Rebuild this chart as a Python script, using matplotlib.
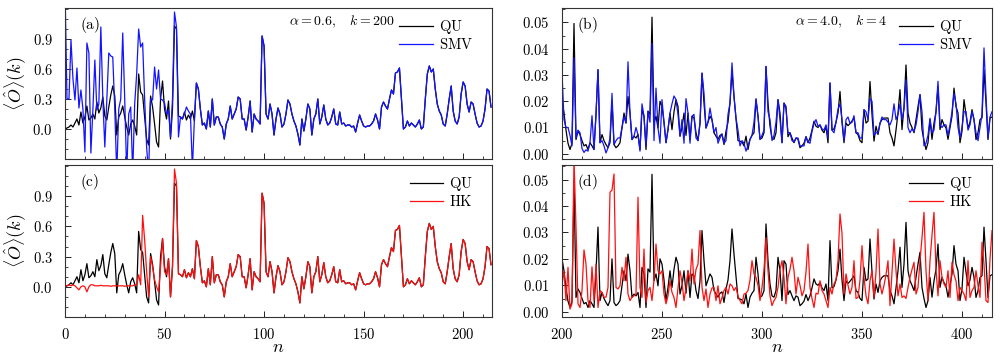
import matplotlib
matplotlib.use("Agg")
import matplotlib.pyplot as plt
import numpy as np
from matplotlib.ticker import MultipleLocator, FormatStrFormatter

# ===== DATA =====
# left panels: alpha = 0.6, k = 200, n = 0 .. 214
qu_left = [
    0.00, 0.01, 0.02, 0.04, 0.02, 0.06, 0.10, 0.04, 0.17, 0.06,
    0.12, 0.23, 0.09, 0.11, 0.15, 0.10, 0.27, 0.16, 0.21, 0.32,
    0.13, 0.09, 0.22, 0.34, 0.43, 0.33, -0.06, 0.12, 0.16, 0.23,
    0.12, 0.02, -0.06, 0.05, 0.09, 0.03, -0.06, 0.55, 0.37, 0.34,
    0.12, -0.10, -0.16, 0.33, 0.22, 0.05, -0.13, -0.18, 0.30, 0.48,
    0.20, 0.10, 0.28, -0.10, 0.20, 1.03, 1.00, 0.13, 0.12, 0.10,
    0.17, 0.09, 0.14, 0.10, 0.18, 0.08, 0.46, 0.40, 0.20, 0.04,
    0.06, 0.00, 0.18, 0.02, 0.30, 0.04, 0.12, 0.12, 0.05, 0.02,
    -0.10, 0.05, 0.10, 0.23, 0.10, 0.15, 0.20, 0.32, 0.30, 0.10,
    0.10, -0.01, 0.12, 0.28, -0.03, 0.15, 0.10, 0.08, 0.05, 0.93,
    0.83, 0.15, 0.10, 0.25, 0.15, -0.06, 0.10, 0.21, 0.15, 0.02,
    0.05, 0.15, 0.29, 0.25, 0.15, 0.08, 0.03, -0.05, -0.16, 0.10,
    -0.02, 0.10, 0.25, 0.20, -0.06, 0.10, 0.15, 0.30, 0.05, 0.12,
    0.24, 0.10, 0.04, 0.06, 0.12, 0.20, 0.05, 0.04, 0.17, 0.05,
    0.06, 0.03, 0.04, 0.04, 0.02, 0.03, -0.03, 0.06, 0.14, 0.08,
    0.03, 0.02, 0.03, 0.03, 0.05, 0.08, 0.15, 0.09, 0.00, 0.22,
    0.27, 0.23, 0.20, 0.30, 0.39, 0.35, 0.56, 0.57, 0.61, 0.30,
    0.00, 0.02, 0.08, 0.03, 0.06, 0.04, 0.02, 0.05, 0.09, 0.00,
    0.02, 0.30, 0.55, 0.63, 0.57, 0.60, 0.40, 0.25, 0.18, 0.14,
    0.05, 0.03, 0.15, 0.30, 0.43, 0.18, 0.08, 0.05, 0.12, 0.35,
    0.47, 0.43, 0.25, 0.17, 0.27, 0.25, 0.15, 0.06, 0.02, 0.03,
    0.08, 0.20, 0.40, 0.38, 0.22,
]
# SMV departs from QU only at the start; afterwards the two lines coincide
smv_left_head = [
    1.40, 0.30, 0.30, 0.89, 0.50, 0.29, 0.61, 0.21, 0.39, 0.20,
    -0.23, 0.86, 0.76, -0.24, 0.19, 0.69, 0.19, 0.25, 1.02, 0.30,
    -0.18, 0.30, 0.76, 0.73, 0.72, 0.20, -0.45, 0.20, 0.30, 0.96,
    0.30, -0.45, 0.15, 0.22, -0.45, 0.25, 0.55, 1.00, 0.82, 0.86,
    0.30, -0.18, -0.45, 0.30, 0.29, 0.62, 0.40, 0.59, 0.30, 0.29,
    0.26, 0.15, 0.19, -0.08, 0.30, 1.17, 1.02, -0.08, 0.12, 0.10,
    0.15, 0.22, 0.18, 0.15, -0.40, 0.10,
]
hk_left_head = [
    0.00, 0.01, 0.02, 0.01, 0.02, 0.01, -0.01, -0.03, 0.00, 0.01,
    0.00, -0.05, 0.00, 0.02, 0.02, 0.01, 0.01, 0.01, 0.015, 0.01,
    0.01, 0.01, 0.01, 0.005, 0.01, 0.01, 0.01, 0.01, 0.01, 0.01,
    0.005, 0.01, 0.01, 0.01, 0.01, 0.02, 0.02, 0.12, 0.02, 0.71,
    0.47, 0.15, -0.10, 0.30, 0.20, 0.07, 0.00, -0.05, 0.20, 0.48,
    0.15, 0.12, 0.28, -0.10, 0.20, 1.17, 1.03, 0.13,
]

# right panels: alpha = 4.0, k = 4, n = 200 .. 415, values in units of 1e-2
qu_right = [
    2.0, 1.55, 0.9, 0.4, 0.16, 0.4, 4.96, 0.54, 0.86, 0.73,
    0.5, 0.3, 0.35, 0.16, 0.42, 0.3, 0.16, 1.5, 3.2, 0.42,
    0.73, 0.5, 0.35, 0.23, 0.42, 2.0, 0.35, 0.23, 0.3, 0.42,
    1.0, 1.55, 1.17, 2.18, 1.55, 0.54, 0.67, 0.6, 0.73, 0.16,
    1.68, 1.43, 0.16, 1.62, 1.5, 5.2, 1.17, 1.43, 0.98, 2.0,
    1.8, 1.2, 0.42, 0.92, 1.55, 0.92, 1.6, 2.06, 1.8, 0.67,
    1.0, 1.55, 0.7, 1.55, 0.54, 1.43, 1.36, 0.8, 0.5, 1.17,
    3.07, 1.93, 0.98, 1.2, 1.43, 1.3, 0.8, 0.67, 0.55, 0.7,
    0.75, 0.35, 0.86, 1.2, 1.93, 3.13, 2.18, 1.36, 0.5, 0.48,
    0.45, 0.3, 0.67, 0.16, 0.55, 0.7, 0.8, 2.06, 1.43, 0.55,
    0.6, 0.8, 3.32, 1.93, 1.05, 0.6, 0.55, 0.8, 2.06, 1.55,
    0.42, 1.93, 1.8, 0.65, 0.8, 0.6, 0.42, 0.6, 0.55, 0.23,
    0.3, 0.4, 0.65, 0.42, 0.6, 0.9, 1.24, 1.05, 1.0, 1.1,
    0.9, 0.8, 1.05, 0.42, 2.69, 0.9, 0.95, 1.2, 1.55, 2.37,
    1.2, 0.42, 1.17, 1.07, 1.15, 1.25, 1.36, 0.8, 0.73, 0.5,
    0.42, 1.68, 1.17, 1.24, 2.75, 1.5, 0.48, 1.05, 0.73, 1.17,
    1.3, 1.36, 1.36, 1.36, 0.8, 0.6, 0.3, 0.9, 1.55, 2.44,
    0.92, 1.8, 3.38, 1.55, 1.17, 1.0, 0.8, 1.3, 1.8, 2.25,
    0.92, 0.5, 0.16, 0.42, 1.3, 0.55, 1.17, 1.6, 2.56, 0.92,
    1.3, 1.1, 0.98, 0.55, 1.0, 1.43, 2.5, 1.8, 1.55, 0.42,
    0.86, 2.06, 1.5, 0.98, 1.2, 1.68, 1.3, 0.54, 0.8, 1.3,
    1.36, 3.2, 1.93, 0.54, 1.36, 1.4,
]
smv_right = [
    3.08, 1.3, 1.0, 1.0, 0.7, 0.3, 3.65, 0.6, 0.9, 0.8,
    0.2, 0.05, 0.15, 0.1, 0.42, 1.45, 0.16, 1.5, 3.2, 0.42,
    0.5, 0.3, 0.03, 0.23, 0.6, 2.3, 0.35, 0.5, 0.6, 0.6,
    1.0, 1.4, 1.17, 3.5, 1.55, 0.54, 0.67, 1.0, 0.73, 0.1,
    1.9, 1.43, 0.3, 1.62, 1.2, 4.2, 0.5, 2.5, 0.98, 0.4,
    2.06, 1.2, 0.42, 0.92, 1.55, 1.9, 2.2, 2.06, 1.5, 0.67,
    1.3, 0.4, 2.1, 1.55, 0.4, 1.43, 1.5, 0.6, 0.5, 1.17,
    3.07, 2.3, 0.98, 1.2, 1.74, 1.3, 0.8, 1.0, 0.4, 0.6,
    0.75, 0.4, 0.5, 1.5, 1.93, 3.46, 2.18, 1.36, 0.9, 0.3,
    0.5, 0.4, 0.1, 0.3, 0.55, 0.7, 1.2, 2.1, 1.43, 0.55,
    0.7, 0.9, 3.33, 1.6, 1.3, 0.5, 0.7, 1.2, 2.06, 1.3,
    0.42, 1.93, 1.7, 0.8, 0.8, 0.5, 0.45, 0.6, 0.6, 0.3,
    0.3, 0.3, 0.65, 0.45, 0.4, 0.85, 1.15, 1.3, 1.05, 1.1,
    0.95, 0.9, 1.1, 0.6, 2.7, 0.9, 0.8, 1.2, 1.7, 1.9,
    1.3, 0.5, 1.3, 1.4, 1.15, 1.2, 1.45, 0.8, 0.8, 0.6,
    0.6, 1.68, 1.6, 1.3, 2.1, 2.0, 0.7, 0.8, 0.8, 1.15,
    1.4, 1.3, 1.3, 1.2, 1.1, 1.3, 1.9, 1.3, 1.5, 1.9,
    1.3, 1.7, 2.82, 1.0, 0.8, 0.95, 0.85, 1.1, 1.6, 2.25,
    1.6, 0.3, 0.4, 0.7, 1.35, 0.8, 0.9, 1.6, 2.76, 1.1,
    1.0, 1.1, 1.1, 0.7, 1.1, 1.6, 2.3, 1.9, 1.0, 0.6,
    1.0, 1.6, 1.6, 0.9, 1.1, 1.6, 1.3, 0.8, 0.5, 1.0,
    1.5, 4.03, 2.2, 0.6, 1.4, 1.6,
]
hk_right = [
    1.0, 1.55, 0.42, 1.68, 0.1, 0.3, 5.8, 3.2, 0.3, 0.16,
    0.8, 2.34, 1.8, 0.42, 0.16, 1.7, 0.42, 1.8, 0.16, 0.8,
    0.73, 0.55, 0.55, 0.92, 4.52, 4.6, 5.21, 0.92, 0.86, 0.98,
    1.68, 1.17, 2.06, 0.67, 0.42, 0.55, 0.6, 0.67, 4.33, 0.92,
    0.54, 2.37, 0.35, 0.8, 0.92, 0.42, 1.2, 2.56, 1.55, 1.43,
    1.55, 0.67, 0.3, 0.6, 1.17, 0.73, 0.54, 0.16, 0.9, 1.55,
    1.1, 0.42, 0.9, 1.55, 1.17, 2.37, 1.05, 1.6, 1.8, 3.07,
    0.92, 0.42, 0.86, 0.16, 0.67, 0.9, 0.92, 0.42, 0.98, 0.3,
    0.54, 0.8, 0.92, 0.67, 1.05, 0.98, 0.8, 0.92, 0.6, 0.42,
    0.3, 0.67, 0.7, 0.8, 1.2, 1.93, 1.43, 1.3, 1.0, 0.42,
    0.92, 1.6, 2.8, 1.55, 0.6, 0.23, 0.42, 0.54, 0.92, 1.6,
    1.93, 1.3, 0.3, 1.3, 1.6, 2.06, 1.55, 0.67, 1.3, 1.0,
    0.6, 0.8, 1.5, 2.56, 0.92, 0.5, 0.16, 0.7, 0.67, 1.17,
    0.8, 0.67, 0.42, 0.16, 0.92, 0.67, 1.05, 1.2, 1.93, 3.7,
    2.96, 0.67, 1.43, 1.0, 0.67, 0.92, 1.93, 0.5, 0.54, 1.2,
    2.5, 1.3, 0.6, 0.3, 1.17, 1.55, 0.54, 1.5, 3.13, 1.05,
    0.67, 1.0, 1.4, 1.93, 0.23, 1.5, 2.75, 1.55, 0.6, 1.05,
    0.54, 0.6, 0.5, 0.92, 1.3, 1.6, 1.87, 0.67, 0.92, 1.93,
    2.8, 3.76, 1.55, 0.42, 1.93, 2.9, 3.76, 1.6, 0.6, 1.93,
    1.3, 1.05, 0.92, 1.55, 0.54, 1.87, 1.4, 1.17, 0.42, 0.92,
    0.8, 0.67, 0.42, 1.93, 0.54, 0.8, 0.92, 1.55, 1.0, 0.54,
    2.63, 1.8, 0.42, 0.35, 2.0, 3.07,
]
RIGHT_UNIT = 1e-2

LEFT_YTICKS = [0.0, 0.3, 0.6, 0.9]
RIGHT_YTICKS = [0.00, 0.01, 0.02, 0.03, 0.04, 0.05]
LEFT_XTICKS = [0, 50, 100, 150, 200]
RIGHT_XTICKS = [200, 250, 300, 350, 400]
# ===== END OF DATA =====

plt.rcParams["mathtext.fontset"] = "cm"
plt.rcParams["font.family"] = "serif"
plt.rcParams["font.serif"] = ["DejaVu Serif"]

BLACK = "#000000"
BLUE = "#1414ff"
RED = "#ff1010"
LW = 0.9
FS = 10.5


def style_axis(ax, yfmt, yminor, show_x):
    ax.xaxis.set_minor_locator(MultipleLocator(10))
    ax.yaxis.set_minor_locator(MultipleLocator(yminor))
    ax.yaxis.set_major_formatter(FormatStrFormatter(yfmt))
    ax.xaxis.set_major_formatter(FormatStrFormatter("$%d$"))
    ax.tick_params(which="both", direction="in", top=False, right=False,
                   labelsize=FS, colors="#222222", labelcolor="black")
    ax.tick_params(axis="y", pad=9)
    ax.tick_params(axis="x", pad=7, labelbottom=show_x)
    ax.tick_params(which="major", length=4, width=0.7)
    ax.tick_params(which="minor", length=2, width=0.6)
    for s in ax.spines.values():
        s.set_linewidth(0.8)
        s.set_color("#333333")


def panel(ax, n, ref, other, other_color, other_label, tag, note=None):
    ax.plot(n[0], ref, color=BLACK, lw=LW, label=r"$\mathrm{QU}$")
    ax.plot(n[1], other, color=other_color, lw=LW, label=other_label)
    ax.text(0.035, 0.89, tag, transform=ax.transAxes, fontsize=FS + 0.5,
            va="center", ha="left")
    if note:
        ax.text(0.649, 0.905, note, transform=ax.transAxes, fontsize=FS - 0.5,
                va="center", ha="center")
    ax.legend(loc="upper right", bbox_to_anchor=(0.955, 0.935), frameon=False,
              borderaxespad=0, borderpad=0, handlelength=2.3, handletextpad=0.4,
              labelspacing=0.1, fontsize=FS)


def main():
    qu_l = np.array(qu_left)
    smv_l = np.array(smv_left_head + qu_left[len(smv_left_head):])
    hk_l = np.array(hk_left_head + qu_left[len(hk_left_head):])
    n_l = np.arange(len(qu_l))

    qu_r = np.array(qu_right) * RIGHT_UNIT
    smv_r = np.array(smv_right) * RIGHT_UNIT
    hk_r = np.array(hk_right) * RIGHT_UNIT

    def nr(a):
        return np.arange(200, 200 + len(a))

    fig = plt.figure(figsize=(10.0, 3.57), dpi=100)
    ax_a = fig.add_axes([0.065, 0.5546, 0.427, 0.423])
    ax_c = fig.add_axes([0.065, 0.1120, 0.427, 0.4258])
    ax_b = fig.add_axes([0.562, 0.5546, 0.430, 0.423])
    ax_d = fig.add_axes([0.562, 0.1120, 0.430, 0.4258])

    panel(ax_a, (n_l, n_l), qu_l, smv_l, BLUE, r"$\mathrm{SMV}$", r"$\mathrm{(a)}$",
          r"$\alpha = 0.6,\quad k = 200$")
    panel(ax_c, (n_l, n_l), qu_l, hk_l, RED, r"$\mathrm{HK}$", r"$\mathrm{(c)}$")
    panel(ax_b, (nr(qu_r), nr(smv_r)), qu_r, smv_r, BLUE, r"$\mathrm{SMV}$",
          r"$\mathrm{(b)}$", r"$\alpha = 4.0,\quad k = 4$")
    panel(ax_d, (nr(qu_r), nr(hk_r)), qu_r, hk_r, RED, r"$\mathrm{HK}$", r"$\mathrm{(d)}$")

    for ax, show_x in ((ax_a, False), (ax_c, True)):
        ax.set_xlim(0, 214.5)
        ax.set_ylim(-0.3, 1.21)
        ax.set_xticks(LEFT_XTICKS)
        ax.set_yticks(LEFT_YTICKS)
        style_axis(ax, "$%.1f$", 0.1, show_x)
        ax.set_ylabel(r"$\langle\hat{O}\rangle(k)$", fontsize=13)
        ax.yaxis.set_label_coords(-0.085, 0.5)

    for ax, show_x in ((ax_b, False), (ax_d, True)):
        ax.set_xlim(200, 415)
        ax.set_ylim(-0.002, 0.0555)
        ax.set_xticks(RIGHT_XTICKS)
        ax.set_yticks(RIGHT_YTICKS)
        style_axis(ax, "$%.2f$", 0.005, show_x)

    for ax in (ax_c, ax_d):
        ax.set_xlabel(r"$n$", fontsize=13)
        ax.xaxis.set_label_coords(0.5, -0.14)

    fig.savefig("out.png", dpi=100)


if __name__ == "__main__":
    main()
